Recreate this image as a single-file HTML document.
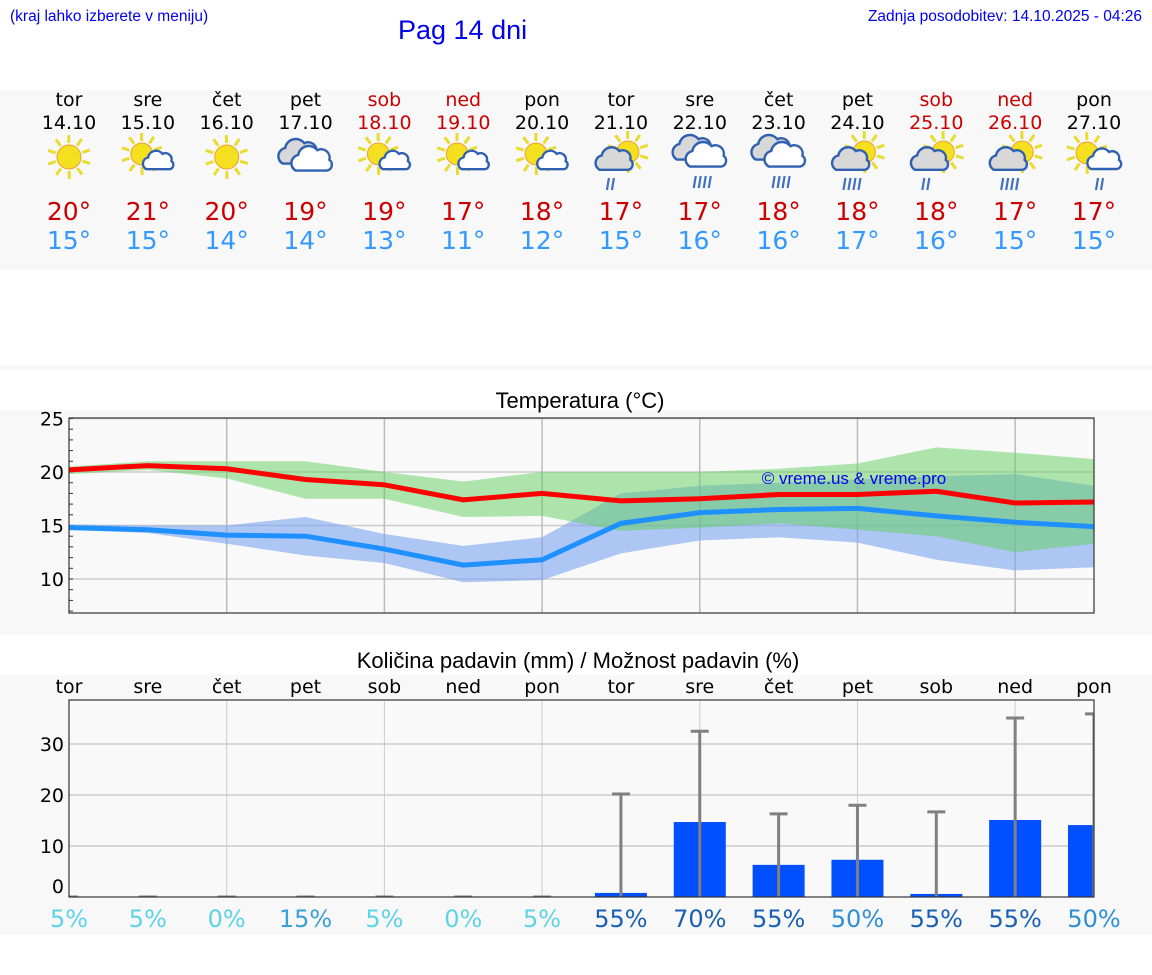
<!DOCTYPE html>
<html><head><meta charset="utf-8">
<style>
body{margin:0;width:1152px;height:975px;background:#fff;position:relative;overflow:hidden;font-family:"DejaVu Sans",sans-serif}
.abs{position:absolute}
.c{position:absolute;transform:translateX(-50%);white-space:nowrap;text-align:center}
</style></head>
<body>
<div class="abs" style="left:10px;top:8px;font:15.5px 'Liberation Sans',sans-serif;color:#0000ee">(kraj lahko izberete v meniju)</div>
<div class="abs" style="left:398px;top:15px;font:27px 'Liberation Sans',sans-serif;color:#0000ee">Pag 14 dni</div>
<div class="abs" style="right:10px;top:8px;font:15.5px 'Liberation Sans',sans-serif;color:#0000ee">Zadnja posodobitev: 14.10.2025 - 04:26</div>
<div class="abs" style="left:0;top:90px;width:1152px;height:180px;background:#f8f8f8"></div>
<div class="abs" style="left:0;top:365px;width:1152px;height:5px;background:#f8f8f8"></div>
<div class="abs" style="left:0;top:410px;width:1152px;height:225px;background:#f8f8f8"></div>
<div class="abs" style="left:0;top:675px;width:1152px;height:260px;background:#f8f8f8"></div>
<div id="days"></div>
<svg id="chart" class="abs" style="left:0;top:0" width="1152" height="975"></svg>
<script>
const dayNames=["tor","sre","čet","pet","sob","ned","pon","tor","sre","čet","pet","sob","ned","pon"];
const dates=["14.10","15.10","16.10","17.10","18.10","19.10","20.10","21.10","22.10","23.10","24.10","25.10","26.10","27.10"];
const weekend=[0,0,0,0,1,1,0,0,0,0,0,1,1,0];
const icons=["sun","suncloud","sun","cloud","suncloud","suncloud","suncloud","sunrain","cloudrain","cloudrain","sunrain","sunrain","sunrain","suncloudrain"];
const maxT=[20,21,20,19,19,17,18,17,17,18,18,18,17,17];
const minT=[15,15,14,14,13,11,12,15,16,16,17,16,15,15];
const maxLine=[20.2,20.6,20.3,19.3,18.8,17.4,18.0,17.3,17.5,17.9,17.9,18.2,17.1,17.2];
const maxHi=[20.5,21.0,21.0,21.0,20.0,19.1,20.0,20.0,20.0,20.3,20.8,22.3,21.8,21.2];
const maxLo=[19.8,20.2,19.4,17.5,17.5,15.8,15.9,14.5,14.8,15.2,14.6,14.0,12.5,13.3];
const minLine=[14.8,14.6,14.1,14.0,12.8,11.3,11.8,15.2,16.2,16.5,16.6,15.9,15.3,14.9];
const minHi=[15.1,15.0,15.0,15.8,14.2,13.1,13.9,18.0,18.7,19.0,19.3,19.6,19.8,18.7];
const minLo=[14.6,14.3,13.3,12.2,11.5,9.7,9.9,12.4,13.6,13.9,13.4,11.8,10.8,11.1];
const tempTicks=[10,15,20,25];
const rain=[0,0,0,0,0,0,0,0.8,14.7,6.3,7.3,0.6,15.1,14.1];
const rainMax=[0,0,0,0,0,0,0,20.2,32.5,16.3,18.0,16.7,35.1,35.9];
const rainTicks=[0,10,20,30];
const prob=[5,5,0,15,5,0,5,55,70,55,50,55,55,50];

const NS="http://www.w3.org/2000/svg";
const svg=document.getElementById('chart');
function el(tag,attrs,parent){const e=document.createElementNS(NS,tag);for(const k in attrs)e.setAttribute(k,attrs[k]);(parent||svg).appendChild(e);return e;}
const X0=69,X1=1094;
const xs=i=>X0+i*(X1-X0)/13;
const tY=v=>472-(v-20)*10.7;
const rY=v=>897-v*5.1;

const days=document.getElementById('days');
for(let i=0;i<14;i++){
  const x=xs(i);
  const mk=(txt,top,size,color,name)=>{const d=document.createElement('div');d.className='c';d.style.left=x+'px';d.style.top=top+'px';d.style.fontSize=size+'px';d.style.color=color;d.textContent=txt;
    
    
    days.appendChild(d);};
  mk(dayNames[i],89,19,weekend[i]?'#cc0000':'#000','day-name');
  mk(dates[i],112,19,weekend[i]?'#cc0000':'#000','day-date');
  mk(maxT[i]+'°',197,25,'#cc0000','max-temp');
  mk(minT[i]+'°',226,25,'#3399ff','min-temp');
}
function sun(g,cx,cy,r){for(let k=0;k<10;k++){const a=k*Math.PI/5+0.3;el('line',{x1:cx+Math.cos(a)*(r+2),y1:cy+Math.sin(a)*(r+2),x2:cx+Math.cos(a)*(r+10),y2:cy+Math.sin(a)*(r+10),stroke:'#e8dc30','stroke-width':3},g);}
  el('circle',{cx,cy,r,fill:'#f5e020',stroke:'#f0a030','stroke-width':1},g);}
function cloud(g,cx,cy,s,fill){const p=`M${cx-14*s},${cy+8*s} a${7*s},${7*s} 0 0 1 ${2*s},${-13*s} a${9*s},${9*s} 0 0 1 ${16*s},${-4*s} a${7*s},${7*s} 0 0 1 ${10*s},${8*s} a${5*s},${5*s} 0 0 1 ${-2*s},${9*s} z`;
  el('path',{d:p,fill,stroke:'#3060b0','stroke-width':2.4},g);}
function rainD(g,cx,cy,n){for(let k=0;k<n;k++)el('line',{x1:cx-6+k*5,y1:cy,x2:cx-8+k*5,y2:cy+12,stroke:'#4070c0','stroke-width':2.2},g);}
for(let i=0;i<14;i++){
  const g=el('g',{});
  
  
  const x=xs(i),y=157,t=icons[i];
  if(t==='sun')sun(g,x,y,12);
  if(t==='suncloud'){sun(g,x-6,y-3,11);cloud(g,x+11,y+5,0.9,'#fff');}
  if(t==='cloud'){cloud(g,x-6,y-3,1.2,'#d8d8d8');cloud(g,x+7,y+4,1.2,'#fff');}
  if(t==='cloudrain'){cloud(g,x-6,y-7,1.2,'#d8d8d8');cloud(g,x+7,y,1.2,'#fff');rainD(g,x+2,y+19,4);}
  if(t==='sunrain'){sun(g,x+7,y-5,11);cloud(g,x-6,y+4,1.1,'#d8d8d8');rainD(g,x-6,y+21,i===12||i===10?4:2);}
  if(t==='suncloudrain'){sun(g,x-7,y-4,11);cloud(g,x+11,y+4,1,'#fff');rainD(g,x+10,y+21,2);}
}
el('text',{x:580,y:408,'text-anchor':'middle','font-family':'Liberation Sans','font-size':22,fill:'#000'}).textContent='Temperatura (°C)';
el('rect',{x:X0,y:418,width:X1-X0,height:195,fill:'#f9f9f9'});
tempTicks.forEach(t=>{el('line',{x1:X0,x2:X1,y1:tY(t),y2:tY(t),stroke:'#ccc','stroke-width':1.5});
  const tx=el('text',{x:64,y:tY(t)+7,'text-anchor':'end','font-size':19,fill:'#000'});tx.textContent=t;});
for(let v=7;v<=25;v++)el('line',{x1:X0,x2:X0+4,y1:tY(v),y2:tY(v),stroke:'#333','stroke-width':1});
for(let i=2;i<13;i+=2)el('line',{x1:xs(i),x2:xs(i),y1:418,y2:613,stroke:'#bbb','stroke-width':1.5});
function band(hi,lo,fill,op,name){let d='M'+hi.map((v,i)=>xs(i)+','+tY(v)).join('L')+'L'+lo.map((v,i)=>xs(i)+','+tY(v)).reverse().join('L')+'Z';
  const p=el('path',{d,fill,opacity:op});}
band(minHi,minLo,'#7ba4ee',0.6,'min-temp-band');
band(maxHi,maxLo,'#5fd05f',0.5,'max-temp-band');
function line(arr,color,name){const p=el('polyline',{points:arr.map((v,i)=>xs(i)+','+tY(v)).join(' '),fill:'none',stroke:color,'stroke-width':5});}
line(maxLine,'#ff0000','max-temp-line');
line(minLine,'#1e90ff','min-temp-line');
el('text',{x:854,y:484,'text-anchor':'middle','font-family':'Liberation Sans','font-size':17,fill:'#0000ee'}).textContent='© vreme.us & vreme.pro';
el('rect',{x:X0,y:418,width:X1-X0,height:195,fill:'none',stroke:'#333','stroke-width':1.2});
el('text',{x:578,y:668,'text-anchor':'middle','font-family':'Liberation Sans','font-size':22,fill:'#000'}).textContent='Količina padavin (mm) / Možnost padavin (%)';
for(let i=0;i<14;i++){const t=el('text',{x:xs(i),y:693,'text-anchor':'middle','font-size':19,fill:'#000'});t.textContent=dayNames[i];}
el('rect',{x:X0,y:700,width:X1-X0,height:197,fill:'#f9f9f9'});
rainTicks.forEach(t=>{if(t>0)el('line',{x1:X0,x2:X1,y1:rY(t),y2:rY(t),stroke:'#ccc','stroke-width':1.5});
  const tx=el('text',{x:64,y:(t===0?rY(t)-4:rY(t)+7),'text-anchor':'end','font-size':19,fill:'#000'});tx.textContent=t;});
for(let i=2;i<13;i+=2)el('line',{x1:xs(i),x2:xs(i),y1:700,y2:897,stroke:'#ccc','stroke-width':1});
const clip=el('clipPath',{id:'pc'});el('rect',{x:X0,y:700,width:X1-X0,height:197},clip);
const pg=el('g',{'clip-path':'url(#pc)'});
for(let i=0;i<14;i++){const x=xs(i);
  const b=el('rect',{x:x-26,y:rY(rain[i]),width:52,height:rain[i]*5.1,fill:'#0050ff'},pg);
  
  el('line',{x1:x,x2:x,y1:rY(rainMax[i]),y2:897,stroke:'#808080','stroke-width':3},pg);
  el('line',{x1:x-9,x2:x+9,y1:rY(rainMax[i]),y2:rY(rainMax[i]),stroke:'#808080','stroke-width':3},pg);
}
el('rect',{x:X0,y:700,width:X1-X0,height:197,fill:'none',stroke:'#333','stroke-width':1.2});
const pc=p=>p>=55?'#1a5fb4':p>=50?'#2e8fd6':p>=15?'#3aa0d8':'#5cd3e6';
for(let i=0;i<14;i++){const t=el('text',{x:xs(i),y:927,'text-anchor':'middle','font-size':24,fill:pc(prob[i])});t.textContent=prob[i]+'%';
  }
</script>
</body></html>
